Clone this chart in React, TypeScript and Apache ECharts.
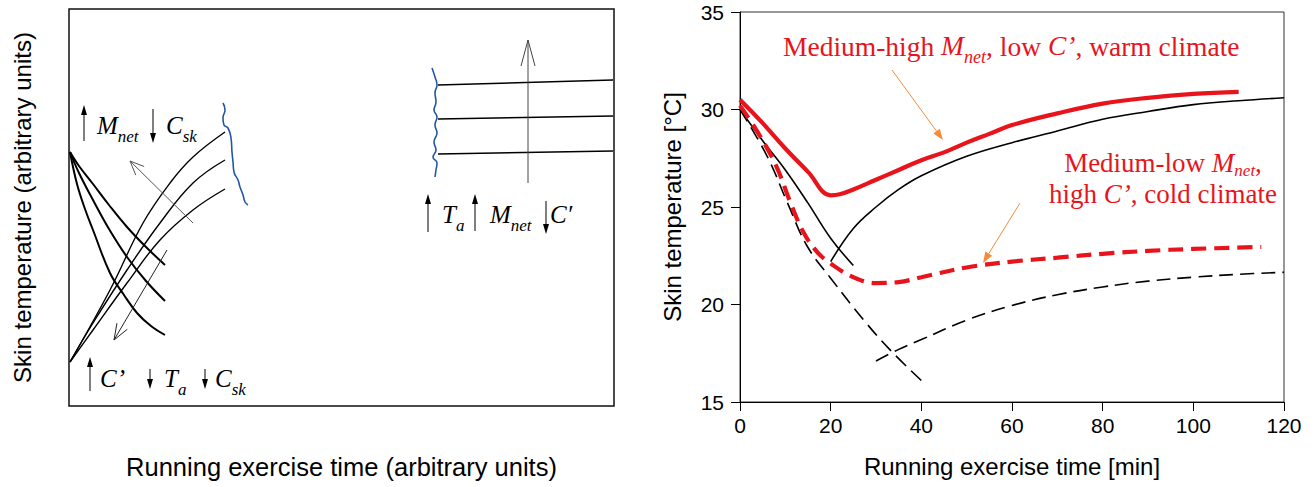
import React, { useEffect, useRef } from "react";
import * as echarts from "echarts";

const SANS = '"Liberation Sans", Arial, Helvetica, sans-serif';
const SERIF = '"Liberation Serif", "Times New Roman", Times, serif';
const RED = "#e8141b";
const ORANGE = "#f28c3a";
const BLUE = "#2456a6";
const GRAYARROW = "#555555";

// ---------- Right panel: skin temperature [°C] vs running time [min] ----------
const warmClimate: number[][] = [
  [0, 30.5], [5, 29.3], [10, 28.0], [15, 26.8], [20, 25.6], [22, 25.65], [25, 25.9],
  [30, 26.4], [35, 26.9], [40, 27.4], [45, 27.8], [50, 28.3], [55, 28.75], [60, 29.2],
  [70, 29.8], [80, 30.3], [90, 30.6], [100, 30.8], [110, 30.9],
];
const warmReferenceDown: number[][] = [
  [0, 30.0], [5, 28.4], [10, 26.9], [15, 25.2], [20, 23.4], [25, 22.0],
];
const warmReferenceUp: number[][] = [
  [20, 22.2], [25, 23.9], [30, 25.0], [35, 25.9], [40, 26.6], [50, 27.6], [60, 28.3],
  [70, 28.9], [80, 29.5], [90, 29.9], [100, 30.25], [110, 30.45], [120, 30.6],
];
const coldClimate: number[][] = [
  [0, 30.2], [4, 28.8], [8, 27.1], [11, 25.3], [14, 23.7], [17, 22.7], [20, 22.1],
  [25, 21.4], [30, 21.1], [35, 21.15], [40, 21.4], [50, 21.9], [60, 22.2], [70, 22.4],
  [80, 22.6], [90, 22.75], [100, 22.85], [115, 22.95],
];
const coldReferenceDown: number[][] = [
  [0, 30.0], [6, 27.6], [10.5, 25.2], [14.8, 23.0], [20, 21.35], [27.3, 19.2], [33, 17.7], [40, 16.1],
];
const coldReferenceUp: number[][] = [
  [30, 17.1], [35, 17.7], [40, 18.2], [50, 19.2], [60, 19.95], [70, 20.5], [80, 20.9],
  [90, 21.2], [100, 21.4], [110, 21.55], [120, 21.65],
];

// ---------- Left panel: schematic (arbitrary units) ----------
const coolingCurves: number[][][] = [
  [[1, 254], [10, 240], [24, 222], [40, 201], [58, 179], [77, 159], [96, 141]],
  [[1, 254], [10, 233], [24, 206], [40, 177], [58, 149], [77, 125], [96, 105]],
  [[1, 254], [8, 222], [16, 197], [24, 176], [41, 133], [55, 111], [68, 93], [82, 80], [96, 71]],
];
const warmingCurves: number[][][] = [
  [[1, 44], [41, 116], [74, 183], [101, 223], [124, 249], [156, 274]],
  [[1, 44], [24, 83], [58, 136], [91, 183], [124, 223], [156, 246]],
  [[1, 44], [24, 76], [58, 123], [91, 166], [124, 196], [156, 217]],
];
const steadyCurves: number[][][] = [
  [[369, 321], [544, 326]],
  [[369, 287], [544, 290]],
  [[369, 252], [544, 255]],
];
const noiseLeft: number[][] = [
  [154, 303], [156, 296], [154, 288], [155, 281], [159, 278], [162, 268], [163, 254],
  [164, 244], [165, 234], [169, 226], [171, 219], [174, 211], [176, 204], [179, 201],
];
const noiseRight: number[][] = [
  [363, 338], [366, 329], [368, 321], [366, 313], [367, 304], [365, 296], [368, 289],
  [366, 281], [368, 273], [365, 264], [367, 256], [364, 249], [368, 243], [367, 236], [366, 229],
];

// ---------- helpers for annotation graphics ----------
function filledArrow(x1: number, y1: number, x2: number, y2: number, color: string, lw: number, hl: number, hw: number) {
  const dx = x2 - x1, dy = y2 - y1;
  const L = Math.hypot(dx, dy);
  const ux = dx / L, uy = dy / L, px = -uy, py = ux;
  const bx = x2 - ux * hl, by = y2 - uy * hl;
  return [
    { type: "line", silent: true, z: 50, shape: { x1, y1, x2: bx, y2: by }, style: { stroke: color, lineWidth: lw } },
    {
      type: "polygon", silent: true, z: 50,
      shape: { points: [[x2, y2], [bx + (px * hw) / 2, by + (py * hw) / 2], [bx - (px * hw) / 2, by - (py * hw) / 2]] },
      style: { fill: color },
    },
  ];
}
function openArrow(x1: number, y1: number, x2: number, y2: number, color: string, lw: number, hl: number, hw: number) {
  const dx = x2 - x1, dy = y2 - y1;
  const L = Math.hypot(dx, dy);
  const ux = dx / L, uy = dy / L, px = -uy, py = ux;
  const bx = x2 - ux * hl, by = y2 - uy * hl;
  return [
    { type: "line", silent: true, z: 50, shape: { x1, y1, x2, y2 }, style: { stroke: color, lineWidth: lw } },
    {
      type: "polyline", silent: true, z: 50,
      shape: { points: [[bx + (px * hw) / 2, by + (py * hw) / 2], [x2, y2], [bx - (px * hw) / 2, by - (py * hw) / 2]] },
      style: { stroke: color, lineWidth: lw, fill: "none" },
    },
  ];
}
function richLabel(x: number, y: number, text: string, size: number, subSize: number, subPad: number, color: string, align = "left", lineHeight?: number) {
  const base: any = { fontFamily: SERIF, fill: color, verticalAlign: "top" };
  if (lineHeight) base.lineHeight = lineHeight;
  return {
    type: "text", x, y, silent: true, z: 60,
    style: {
      text, fill: color, fontFamily: SERIF, fontSize: size,
      align, verticalAlign: "top", textAlign: align, textVerticalAlign: "top",
      rich: {
        n: { ...base, fontSize: size, fontStyle: "normal" },
        i: { ...base, fontSize: size, fontStyle: "italic" },
        s: { ...base, fontSize: subSize, fontStyle: "italic", padding: [subPad, 0, 0, 0] },
      },
    },
  };
}

const lineSeries = (data: number[][], axis: number, color: string, width: number, dash?: number[], smooth: number | boolean = 0.4) => ({
  type: "line",
  xAxisIndex: axis,
  yAxisIndex: axis,
  data,
  symbol: "none",
  silent: true,
  smooth,
  lineStyle: { color, width, type: dash ? dash : "solid", cap: "butt" },
  z: 3,
});

export default function App() {
  const ref = useRef<HTMLDivElement>(null);
  useEffect(() => {
    document.body.style.margin = "0";
    if (!ref.current) return;
    const chart = echarts.init(ref.current, null, { renderer: "svg" });

    const T = 25, TS = 17, TP = 14.7;
    const graphic: any[] = [
      // left panel gray direction arrows
      ...openArrow(193, 223, 130, 161, GRAYARROW, 1, 14, 12),
      ...openArrow(167, 250, 114, 340, "#222", 1, 16, 12),
      ...openArrow(528, 183, 528, 40, "#444", 1, 26, 14),
      // upper-left labels
      ...filledArrow(84, 141, 84, 105, "#000", 1, 10, 6),
      richLabel(97, 113.1, "{i|M}{s|net}", T, TS, TP, "#000"),
      ...filledArrow(153, 109, 153, 143, "#000", 1, 10, 6),
      richLabel(166, 113.1, "{i|C}{s|sk}", T, TS, TP, "#000"),
      // lower-left labels
      ...filledArrow(90, 391, 90, 357, "#000", 1, 10, 6),
      richLabel(100, 366.1, "{i|C’}", T, TS, TP, "#000"),
      ...filledArrow(150, 369, 150, 389, "#000", 1, 10, 6),
      richLabel(164, 366.1, "{i|T}{s|a}", T, TS, TP, "#000"),
      ...filledArrow(205, 369, 205, 389, "#000", 1, 10, 6),
      richLabel(215, 366.1, "{i|C}{s|sk}", T, TS, TP, "#000"),
      // right-middle labels
      ...filledArrow(428, 232, 428, 194, "#000", 1, 10, 6),
      richLabel(442, 202.1, "{i|T}{s|a}", T, TS, TP, "#000"),
      ...filledArrow(475, 231, 475, 194, "#000", 1, 10, 6),
      richLabel(490, 202.1, "{i|M}{s|net}", T, TS, TP, "#000"),
      ...filledArrow(546, 201, 546, 234, "#000", 1, 10, 6),
      richLabel(550, 202.1, "{i|C′}", T, TS, TP, "#000"),
      // right panel annotations
      richLabel(783, 32.4, "{n|Medium-high }{i|M}{s|net}{n|, low }{i|C’}{n|, warm climate}", 27.5, 18, 15.5, RED),
      richLabel(
        1163, 149.5,
        "{n|Medium-low }{i|M}{s|net}{n|,}\n{n|high }{i|C’}{n|, cold climate}",
        27, 17, 12.5, RED, "center", 31
      ),
      ...filledArrow(892, 70, 943, 140, ORANGE, 1, 11, 8),
      ...filledArrow(1020, 203, 983, 263, ORANGE, 1, 11, 8),
    ];

    const nameStyle = { fontFamily: SANS, fontSize: 24, color: "#000" };
    const option: any = {
      animation: false,
      backgroundColor: "#fff",
      grid: [
        { left: 69, top: 9, width: 545, height: 397, show: true, borderColor: "#111", borderWidth: 1.5, backgroundColor: "transparent" },
        { left: 740, top: 12, width: 544, height: 390, show: true, borderColor: "#333", borderWidth: 1, backgroundColor: "transparent" },
      ],
      xAxis: [
        {
          gridIndex: 0, type: "value", min: 0, max: 545,
          axisLine: { show: false }, axisTick: { show: false }, axisLabel: { show: false }, splitLine: { show: false },
          name: "Running exercise time (arbitrary units)", nameLocation: "middle", nameGap: 48,
          nameTextStyle: { ...nameStyle, fontSize: 25.5 },
        },
        {
          gridIndex: 1, type: "value", min: 0, max: 120, interval: 20,
          axisLine: { show: true, lineStyle: { color: "#000", width: 1 } },
          axisTick: { show: true, inside: false, length: 9, lineStyle: { color: "#000" } },
          axisLabel: { fontFamily: SANS, fontSize: 21, color: "#000", margin: 13 },
          splitLine: { show: false },
          name: "Running exercise time [min]", nameLocation: "middle", nameGap: 52,
          nameTextStyle: nameStyle,
        },
      ],
      yAxis: [
        {
          gridIndex: 0, type: "value", min: 0, max: 397,
          axisLine: { show: false }, axisTick: { show: false }, axisLabel: { show: false }, splitLine: { show: false },
          name: "Skin temperature (arbitrary units)", nameLocation: "middle", nameGap: 35,
          nameTextStyle: nameStyle,
        },
        {
          gridIndex: 1, type: "value", min: 15, max: 35, interval: 5,
          axisLine: { show: true, lineStyle: { color: "#000", width: 1 } },
          axisTick: { show: true, inside: false, length: 9, lineStyle: { color: "#000" } },
          axisLabel: { fontFamily: SANS, fontSize: 21, color: "#000", margin: 16 },
          splitLine: { show: false },
          name: "Skin temperature [°C]", nameLocation: "middle", nameGap: 56,
          nameTextStyle: nameStyle,
        },
      ],
      series: [
        ...coolingCurves.map((c) => lineSeries(c, 0, "#000", 2, undefined, 0.4)),
        ...warmingCurves.map((c) => lineSeries(c, 0, "#000", 1.4, undefined, 0.4)),
        ...steadyCurves.map((c) => lineSeries(c, 0, "#000", 1.4, undefined, false)),
        lineSeries(noiseLeft, 0, BLUE, 1.6, undefined, 0.5),
        lineSeries(noiseRight, 0, BLUE, 1.6, undefined, 0.5),
        lineSeries(warmReferenceDown, 1, "#000", 1.6),
        lineSeries(warmReferenceUp, 1, "#000", 1.6),
        lineSeries(coldReferenceDown, 1, "#000", 1.6, [14, 7]),
        lineSeries(coldReferenceUp, 1, "#000", 1.6, [14, 7]),
        lineSeries(warmClimate, 1, RED, 4.2),
        lineSeries(coldClimate, 1, RED, 4.2, [15, 8]),
      ],
      graphic: { elements: graphic },
    };
    chart.setOption(option);
    return () => chart.dispose();
  }, []);
  return <div ref={ref} style={{ width: 1315, height: 487 }} />;
}
